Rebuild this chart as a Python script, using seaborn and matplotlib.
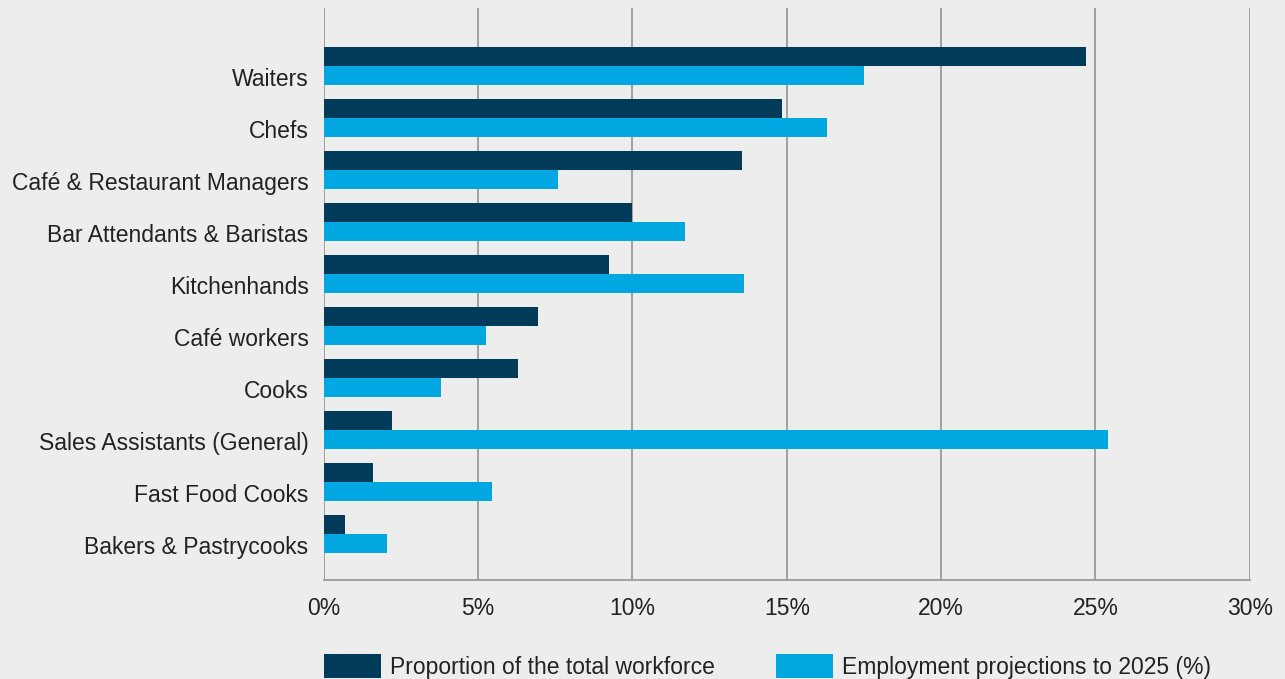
import matplotlib
matplotlib.use("Agg")
import matplotlib.pyplot as plt
import matplotlib.transforms as mtransforms
import numpy as np
import pandas as pd
import seaborn as sns
from matplotlib.patches import Patch

occupations = ["Waiters", "Chefs", "Café & Restaurant Managers", "Bar Attendants & Baristas",
               "Kitchenhands", "Café workers", "Cooks", "Sales Assistants (General)",
               "Fast Food Cooks", "Bakers & Pastrycooks"]
workforce_share = [24.7, 14.85, 13.55, 10.0, 9.25, 6.95, 6.3, 2.2, 1.6, 0.7]
projections_2025 = [17.5, 16.3, 7.6, 11.7, 13.6, 5.25, 3.8, 25.4, 5.45, 2.05]
series_names = ["Proportion of the total workforce", "Employment projections to 2025 (%)"]
palette = ["#003b5a", "#00a7e1"]

df = pd.DataFrame({
    "occupation": occupations * 2,
    "value": workforce_share + projections_2025,
    "series": [series_names[0]] * len(occupations) + [series_names[1]] * len(occupations),
})

sns.set_style("white")
plt.rcParams["font.family"] = ["Liberation Sans", "DejaVu Sans"]
bg = "#ededed"

fig = plt.figure(figsize=(12.85, 6.79), dpi=100, facecolor=bg)
ax = fig.add_axes([0.252, 0.146, 0.7206, 0.842])
ax.set_facecolor(bg)

sns.barplot(data=df, x="value", y="occupation", hue="series", order=occupations,
            hue_order=series_names, palette=palette, width=0.72, saturation=1,
            orient="h", ax=ax, legend=False, linewidth=0)

ax.set_xlim(0, 30)
ax.set_ylim(9.885, -1.115)
ax.set_xticks(np.arange(0, 31, 5))
ax.set_xticklabels([f"{t}%" for t in range(0, 31, 5)])
ax.xaxis.grid(True, color="#9a9a9a", linewidth=1.3)
ax.set_axisbelow(True)
for s in ["top", "right", "left"]:
    ax.spines[s].set_visible(False)
ax.spines["bottom"].set_color("#9a9a9a")
ax.spines["bottom"].set_linewidth(1.3)
ax.tick_params(axis="both", length=0, labelsize=16.5, colors="#222222")
ax.tick_params(axis="x", pad=12)
ax.tick_params(axis="y", pad=11)
ax.set_xlabel("")
ax.set_ylabel("")

# labels sit slightly below the group centre in the original
shift = mtransforms.ScaledTranslation(0, -8 / 72, fig.dpi_scale_trans)
for lbl in ax.get_yticklabels():
    lbl.set_transform(lbl.get_transform() + shift)

handles = [Patch(facecolor=c, edgecolor="none") for c in palette]
fig.legend(handles, series_names, loc="lower left", bbox_to_anchor=(0.236, -0.03),
           ncol=2, frameon=False, fontsize=16.5, handlelength=2.5, handleheight=1.25,
           handletextpad=0.4, columnspacing=2.65, labelcolor="#222222")

fig.savefig("out.png", dpi=100, facecolor=bg)
